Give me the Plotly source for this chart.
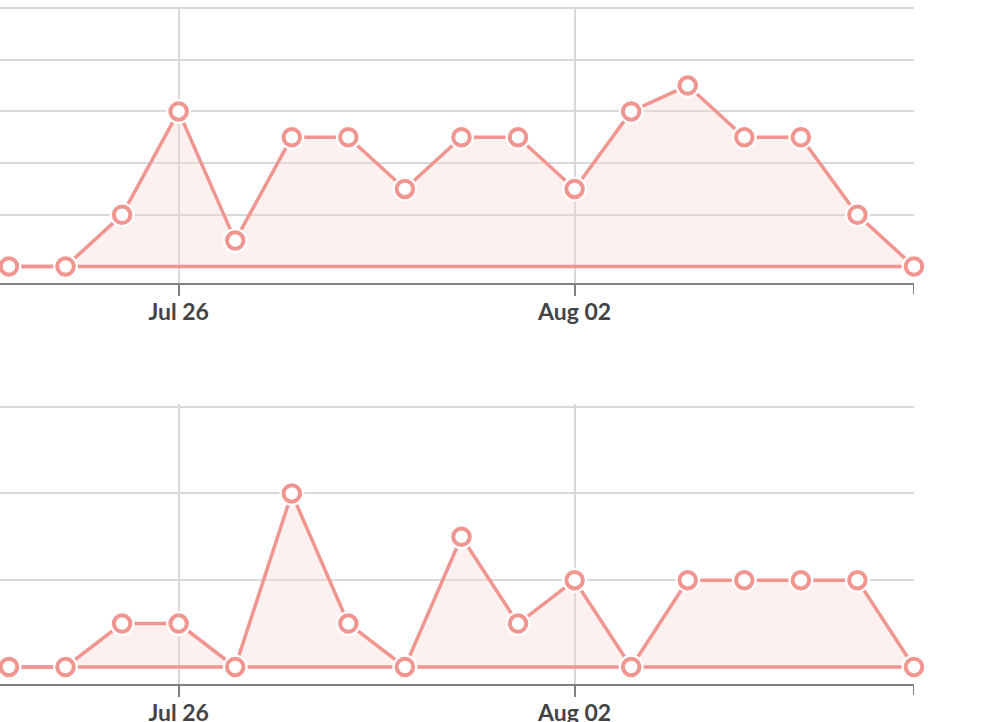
import pandas as pd
import plotly.graph_objects as go
from plotly.subplots import make_subplots

# daily values, Jul 23 - Aug 08
dates = pd.date_range("2021-07-23", "2021-08-08", freq="D")
top_values = [0, 0, 1, 3, 0.5, 2.5, 2.5, 1.5, 2.5, 2.5, 1.5, 3, 3.5, 2.5, 2.5, 1, 0]
bottom_values = [0, 0, 0.5, 0.5, 0, 2, 0.5, 0, 1.5, 0.5, 1, 0, 1, 1, 1, 1, 0]
tick_dates = ["2021-07-26", "2021-08-02"]
tick_labels = ["Jul 26", "Aug 02"]

SALMON = "#F0958F"
FILL = "rgba(248,215,212,0.35)"
GRID = "#D9D9D9"
AXIS = "#808080"

fig = make_subplots(rows=2, cols=1)

for row, vals in [(1, top_values), (2, bottom_values)]:
    # area + line
    fig.add_trace(go.Scatter(x=dates, y=vals, mode="lines", fill="tozeroy",
                             fillcolor=FILL, line=dict(color=SALMON, width=3.5),
                             hoverinfo="skip"), row=row, col=1)
    # stroke along the bottom of the area
    fig.add_trace(go.Scatter(x=dates, y=[0] * len(dates), mode="lines",
                             line=dict(color=SALMON, width=3.5), hoverinfo="skip"),
                  row=row, col=1)
    # white halo behind points
    fig.add_trace(go.Scatter(x=dates, y=vals, mode="markers", cliponaxis=False,
                             marker=dict(size=25, color="white"), hoverinfo="skip"),
                  row=row, col=1)
    fig.add_trace(go.Scatter(x=dates, y=vals, mode="markers", cliponaxis=False,
                             marker=dict(size=16.5, color="white",
                                         line=dict(color=SALMON, width=4))),
                  row=row, col=1)
    # outer tick at the end of the axis
    fig.add_shape(type="line", xref=f"x{row if row > 1 else ''}",
                  yref=f"y{row if row > 1 else ''} domain",
                  x0=dates[-1], x1=dates[-1], ysizemode="pixel", yanchor=0,
                  y0=0, y1=-11, line=dict(color=AXIS, width=2))

x_start = dates[0] - pd.Timedelta(hours=3.8)
axis_style = dict(range=[x_start, dates[-1]], tickvals=tick_dates, ticktext=tick_labels,
                  showgrid=True, gridcolor=GRID, gridwidth=2, zeroline=False,
                  showline=True, linecolor=AXIS, linewidth=2, automargin=False,
                  ticks="outside", ticklen=11, tickwidth=2, tickcolor=AXIS,
                  ticklabelstandoff=-4,
                  tickfont=dict(family="Lato", size=23, color="#444444", weight="bold"))

fig.update_xaxes(**axis_style)
fig.update_yaxes(showticklabels=False, showgrid=True, gridcolor=GRID, gridwidth=2,
                 zeroline=False, showline=False, ticks="", automargin=False)

fig.update_layout(
    width=984, height=722,
    margin=dict(l=0, r=70, t=7, b=38),
    showlegend=False,
    plot_bgcolor="white", paper_bgcolor="white",
    xaxis=dict(domain=[0, 1], anchor="y"),
    xaxis2=dict(domain=[0, 1], anchor="y2"),
    yaxis=dict(domain=[0.5917, 1.0], range=[-0.328, 5.02], dtick=1),
    yaxis2=dict(domain=[0.0, 0.4136], range=[-0.196, 3.03], dtick=1),
)

# page has a default body margin; remove it so the figure sits at the corner
fig.write_html("out.html", config={"displayModeBar": False},
               post_script="document.body.style.margin='0';")
